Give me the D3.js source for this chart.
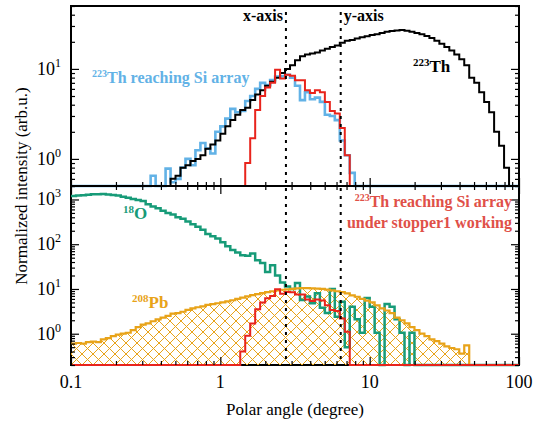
<!DOCTYPE html>
<html>
<head>
<meta charset="utf-8">
<script src="https://cdn.jsdelivr.net/npm/d3@7"></script>
<style>
body { margin: 0; background: #fff; }
</style>
</head>
<body>
<div id="chart"></div>
<script>
// Histograms are binned in log(angle), 30 bins per decade starting at 0.1 deg
const binsPerDecade = 30;
const firstBinLog = -1;
const nBins = 90;

// 223Th, all (black, top panel)
const thAllStart = 20;
const thAll = [0.6, 0.65, 0.8, 0.85, 0.95, 1.0, 1.1, 1.3, 1.45, 1.6,
    1.9, 2.3, 2.7, 3.1, 3.5, 3.7, 4.5, 5.2, 5.8, 6.5,
    7.2, 8.0, 9.0, 10.0, 11.0, 12.5, 13.8, 14.5, 14.8, 15.2,
    16.0, 16.8, 17.5, 18.2, 19.5, 20.5, 21.0, 21.8, 22.5, 23.0,
    23.8, 24.3, 25.0, 25.8, 26.3, 26.8, 27.0, 26.5, 25.8, 25.0,
    24.2, 23.2, 22.0, 20.5, 19.0, 17.5, 16.0, 14.5, 12.8, 11.0,
    8.0, 7.0, 5.5, 4.3, 3.3, 2.0, 1.4, 0.8];

// 223Th reaching Si array (blue, top panel)
const thSiStart = 16;
const thSi = [0.65, 0, 0, 0.78, 0.55, 0.6, 0.8, 1.0, 0.85, 1.25,
    1.5, 1.3, 1.15, 2.0, 2.3, 2.8, 3.6, 3.3, 3.4, 4.4,
    5.0, 6.0, 7.0, 6.6, 7.5, 8.2, 8.3, 8.6, 8.0, 6.5,
    4.5, 5.5, 4.6, 4.8, 4.3, 3.1, 3.0, 2.7, 1.6, 1.1,
    0.7];

// 223Th reaching Si array under stopper1 working (red, both panels)
const thStopStart = 34;
const thStop = [0.4, 0.9, 1.7, 3.5, 5.0, 6.2, 7.0, 9.8, 7.8, 8.6,
    8.4, 7.5, 7.5, 5.8, 5.4, 5.8, 5.5, 4.3, 3.4, 3.2,
    2.2, 1.1];

// 18O (green, bottom panel)
const oStart = 0;
const oVals = [1200, 1230, 1250, 1280, 1300, 1300, 1320, 1290, 1260, 1220,
    1150, 1090, 1020, 970, 920, 780, 700, 640, 560, 500,
    460, 400, 370, 320, 280, 245, 210, 170, 150, 135,
    110, 90, 74, 65, 57, 55, 62, 44, 38, 24,
    34, 20, 14, 11.3, 10, 13.6, 5.7, 6.8, 4.8, 8,
    3.8, 2.9, 10, 2.4, 5.2, 0.5, 4.0, 2.1, 1.05, 6.3,
    4, 1.05, 0, 4.6, 4.0, 2.1, 1.05, 0, 1.05];

// 208Pb (orange, bottom panel)
const pbStart = 0;
const pbVals = [0.6, 0.62, 0.6, 0.65, 0.67, 0.65, 0.75, 0.8, 0.88, 0.95,
    1.0, 1.05, 1.2, 1.4, 1.6, 1.7, 1.9, 2.1, 2.3, 2.5,
    2.8, 2.9, 3.1, 3.4, 3.7, 3.9, 4.1, 4.4, 4.6, 4.8,
    5.0, 5.3, 5.6, 6.0, 6.4, 6.8, 7.3, 7.7, 8.1, 8.5,
    8.9, 9.3, 9.6, 9.8, 10.1, 10.3, 10.4, 10.4, 10.3, 10.2,
    10.0, 9.7, 9.3, 8.9, 8.5, 8.0, 7.2, 6.7, 6.0, 5.5,
    5.0, 4.3, 3.7, 3.3, 2.9, 2.3, 2.0, 1.7, 1.4, 1.2,
    1.0, 0.88, 0.75, 0.68, 0.6, 0.52, 0.48, 0.45, 0.36, 0.55];

// cut lines (degree)
const xAxisCut = 2.75;
const yAxisCut = 6.4;

// ticks
const xMajor = [0.1, 1, 10, 100];
const xMinor = [0.2, 0.3, 0.4, 0.5, 0.6, 0.7, 0.8, 0.9, 2, 3, 4, 5, 6, 7, 8, 9, 20, 30, 40, 50, 60, 70, 80, 90];
const xLabels = ["0.1", "1", "10", "100"];
const yTopMajor = [1, 10];
const yTopMinor = [0.5, 0.6, 0.7, 0.8, 0.9, 2, 3, 4, 5, 6, 7, 8, 9, 20, 30, 40, 50];
const yBotMajor = [1, 10, 100, 1000];
const yBotMinor = [0.2, 0.3, 0.4, 0.5, 0.6, 0.7, 0.8, 0.9, 2, 3, 4, 5, 6, 7, 8, 9,
    20, 30, 40, 50, 60, 70, 80, 90, 200, 300, 400, 500, 600, 700, 800, 900, 2000];

const width = 552, height = 426;
const left = 71, right = 519;
const topY0 = 6, midY = 186, botY1 = 365;
const serif = "'Liberation Serif', 'DejaVu Serif', serif";

const colBlue = "#62b2e6", colRed = "#e8241c", colGreen = "#179b78", colOrange = "#e8a319";

let svg = d3.select("#chart").append("svg")
    .attr("width", width).attr("height", height)
    .attr("font-family", serif)
    .style("font-family", serif);

let x = d3.scaleLog().domain([0.1, 100]).range([left, right]);
let yTop = d3.scaleLog().domain([0.5, 50]).range([midY, topY0]);
let yBot = d3.scaleLog().domain([0.2, 2000]).range([botY1, midY]);

function binEdge(k) {
    return Math.pow(10, firstBinLog + k / binsPerDecade);
}

// full histogram (empty bins = 0)
function histo(start, vals) {
    let pts = [];
    for (let k = 0; k < nBins; k++) {
        let v = (k >= start && k < start + vals.length) ? vals[k - start] : 0;
        pts.push([binEdge(k), v]);
    }
    pts.push([binEdge(nBins), 0]);
    return pts;
}

function yClamp(scale, v) {
    let d = scale.domain();
    return scale(Math.min(Math.max(v, d[0]), d[1]));
}

function stepLine(scale) {
    return d3.line()
        .x(d => x(d[0]))
        .y(d => yClamp(scale, d[1]))
        .curve(d3.curveStepAfter);
}

// hatch pattern for 208Pb
let defs = svg.append("defs");
let pat = defs.append("pattern")
    .attr("id", "hatch")
    .attr("patternUnits", "userSpaceOnUse")
    .attr("width", 11).attr("height", 11)
    .attr("x", left).attr("y", botY1);
pat.append("path").attr("d", "M0,0L11,11M11,0L0,11M-1,10L1,12M10,-1L12,1")
    .attr("stroke", colOrange).attr("stroke-width", 1).attr("fill", "none");

// bottom frame (drawn under the histograms)
svg.append("rect").attr("x", left).attr("y", midY)
    .attr("width", right - left).attr("height", botY1 - midY)
    .attr("fill", "none").attr("stroke", "#000").attr("stroke-width", 2);

// ---- bottom panel ----
let pbData = histo(pbStart, pbVals);
svg.append("path")
    .datum(pbData)
    .attr("d", d3.area()
        .x(d => x(d[0]))
        .y0(botY1)
        .y1(d => yClamp(yBot, d[1]))
        .curve(d3.curveStepAfter))
    .attr("fill", "url(#hatch)");

svg.append("path")
    .datum(histo(oStart, oVals))
    .attr("d", stepLine(yBot))
    .attr("fill", "none").attr("stroke", colGreen).attr("stroke-width", 2.5);

svg.append("path")
    .datum(pbData)
    .attr("d", stepLine(yBot))
    .attr("fill", "none").attr("stroke", colOrange).attr("stroke-width", 2.2);

svg.append("path")
    .datum(histo(thStopStart, thStop))
    .attr("d", stepLine(yBot))
    .attr("fill", "none").attr("stroke", colRed).attr("stroke-width", 2);

// ---- top panel ----
svg.append("path")
    .datum(histo(thSiStart, thSi))
    .attr("d", stepLine(yTop))
    .attr("fill", "none").attr("stroke", colBlue).attr("stroke-width", 2.6);

svg.append("path")
    .datum(histo(thAllStart, thAll))
    .attr("d", stepLine(yTop))
    .attr("fill", "none").attr("stroke", "#000").attr("stroke-width", 2);

svg.append("path")
    .datum(histo(thStopStart, thStop))
    .attr("d", stepLine(yTop))
    .attr("fill", "none").attr("stroke", colRed).attr("stroke-width", 2);

// top frame over the histograms
svg.append("rect").attr("x", left).attr("y", topY0)
    .attr("width", right - left).attr("height", midY - topY0)
    .attr("fill", "none").attr("stroke", "#000").attr("stroke-width", 2);

// ---- axes (inward ticks) ----
function addTicks(axis, tx, ty) {
    svg.append("g")
        .attr("transform", "translate(" + tx + "," + ty + ")")
        .call(axis)
        .call(g => g.select(".domain").remove())
        .call(g => g.selectAll("line").attr("stroke", "#000").attr("stroke-width", 1.2));
}

[[xMajor, 8], [xMinor, 4]].forEach(function(t) {
    addTicks(d3.axisBottom(x).tickValues(t[0]).tickSize(-t[1]).tickFormat(""), 0, midY);
    addTicks(d3.axisTop(x).tickValues(t[0]).tickSize(-t[1]).tickFormat(""), 0, midY);
    addTicks(d3.axisBottom(x).tickValues(t[0]).tickSize(-t[1]).tickFormat(""), 0, botY1);
});
[[yTopMajor, 8], [yTopMinor, 4]].forEach(function(t) {
    addTicks(d3.axisLeft(yTop).tickValues(t[0]).tickSize(-t[1]).tickFormat(""), left, 0);
    addTicks(d3.axisRight(yTop).tickValues(t[0]).tickSize(-t[1]).tickFormat(""), right, 0);
});
[[yBotMajor, 8], [yBotMinor, 4]].forEach(function(t) {
    addTicks(d3.axisLeft(yBot).tickValues(t[0]).tickSize(-t[1]).tickFormat(""), left, 0);
    addTicks(d3.axisRight(yBot).tickValues(t[0]).tickSize(-t[1]).tickFormat(""), right, 0);
});

// y tick labels 10^n
function powLabel(scale, v) {
    let t = svg.append("text")
        .attr("x", 61)
        .attr("y", scale(v) + 6)
        .attr("text-anchor", "end")
        .attr("font-family", serif)
        .attr("font-size", 18);
    t.append("tspan").text("10");
    t.append("tspan").attr("font-size", 12).attr("dy", -8).text(Math.round(Math.log10(v)));
}
yTopMajor.forEach(v => powLabel(yTop, v));
yBotMajor.forEach(v => powLabel(yBot, v));

// x tick labels
svg.selectAll(".xlab").data(xMajor).enter()
    .append("text")
    .attr("class", "xlab")
    .attr("x", d => x(d))
    .attr("y", 388)
    .attr("text-anchor", "middle")
    .attr("font-family", serif)
    .attr("font-size", 18)
    .text((d, i) => xLabels[i]);

// axis titles
svg.append("text")
    .attr("x", 295).attr("y", 415)
    .attr("text-anchor", "middle")
    .attr("font-family", serif)
    .attr("font-size", 17)
    .text("Polar angle (degree)");
svg.append("text")
    .attr("transform", "translate(27," + 186 + ")rotate(-90)")
    .attr("text-anchor", "middle")
    .attr("font-family", serif)
    .attr("font-size", 17)
    .text("Normalized intensity (arb.u.)");

// cut lines
[xAxisCut, yAxisCut].forEach(function(a) {
    svg.append("line")
        .attr("x1", x(a)).attr("x2", x(a))
        .attr("y1", 12).attr("y2", botY1)
        .attr("stroke", "#000").attr("stroke-width", 2)
        .attr("stroke-dasharray", "3,5");
});

// labels
function label(xp, yp, sup, main, color, size, anchor) {
    let t = svg.append("text")
        .attr("x", xp).attr("y", yp)
        .attr("fill", color)
        .attr("font-family", serif)
        .attr("font-weight", "bold")
        .attr("font-size", size)
        .attr("text-anchor", anchor || "start");
    if (sup) {
        t.append("tspan").attr("font-size", Math.round(size * 0.65)).attr("dy", -6).text(sup);
        t.append("tspan").attr("dy", 6).text(main);
    } else {
        t.text(main);
    }
}
label(x(xAxisCut) - 3, 21, null, "x-axis", "#000", 16, "end");
label(x(yAxisCut) + 3, 21, null, "y-axis", "#000", 16, "start");
label(92, 83, "223", "Th reaching Si array", colBlue, 16);
label(413, 72, "223", "Th", "#000", 17);
label(512, 207, "223", "Th reaching Si array", "#e05048", 16, "end");
label(512, 228, null, "under stopper1 working", "#e05048", 16, "end");
label(123, 219, "18", "O", colGreen, 17);
label(132, 308, "208", "Pb", colOrange, 17);
</script>
</body>
</html>
